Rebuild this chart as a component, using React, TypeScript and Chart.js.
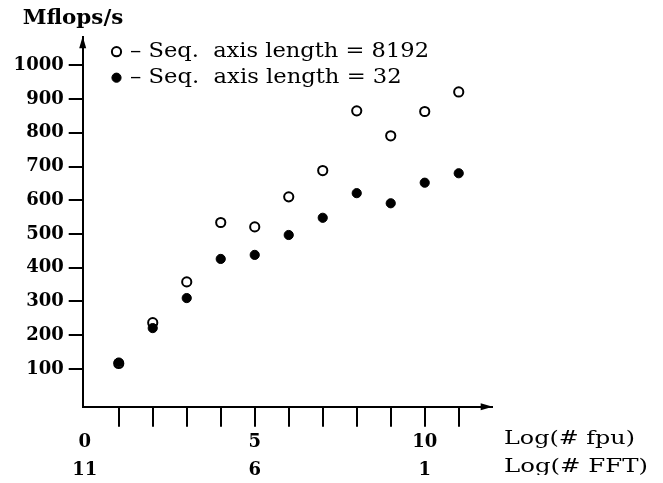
import React, { useEffect, useRef } from 'react';
import { Chart, registerables } from 'chart.js';

Chart.register(...registerables);

const xValues = [1, 2, 3, 4, 5, 6, 7, 8, 9, 10, 11];
const seq8192 = [116, 237, 358, 534, 521, 610, 688, 865, 791, 863, 921];
const seq32 = [119, 221, 310, 426, 438, 497, 548, 621, 591, 652, 680];
const yTickValues = [100, 200, 300, 400, 500, 600, 700, 800, 900, 1000];
const xTickValues = [0, 1, 2, 3, 4, 5, 6, 7, 8, 9, 10, 11];
const fpuTickLabels: Record<number, string> = { 0: '0', 5: '5', 10: '10' };
const fftTickLabels: Record<number, string> = { 0: '11', 5: '6', 10: '1' };
const legendLabels = ['– Seq.  axis length = 8192', '– Seq.  axis length = 32'];
const yAxisTitle = 'Mflops/s';
const xAxisTitles = ['Log(# fpu)', 'Log(# FFT)'];

const SERIF = '"DejaVu Serif", serif';

function drawStretched(
  ctx: CanvasRenderingContext2D,
  text: string,
  x: number,
  baseline: number,
  font: string,
  targetWidth: number
) {
  ctx.save();
  ctx.font = font;
  ctx.textAlign = 'left';
  ctx.textBaseline = 'alphabetic';
  const w = ctx.measureText(text).width;
  const sx = targetWidth / w;
  ctx.translate(x, baseline);
  ctx.scale(sx, 1);
  ctx.fillStyle = '#000';
  ctx.fillText(text, 0, 0);
  ctx.restore();
}

const decorPlugin = {
  id: 'decor',
  afterDraw(chart: any) {
    const ctx: CanvasRenderingContext2D = chart.ctx;
    const { left, right, top, bottom } = chart.chartArea;
    ctx.save();
    ctx.fillStyle = '#000';
    // y arrow
    ctx.beginPath();
    ctx.moveTo(left, top - 1);
    ctx.lineTo(left - 3.5, top + 11);
    ctx.lineTo(left + 3.5, top + 11);
    ctx.closePath();
    ctx.fill();
    // x arrow
    ctx.beginPath();
    ctx.moveTo(right + 1, bottom);
    ctx.lineTo(right - 11, bottom - 3.5);
    ctx.lineTo(right - 11, bottom + 3.5);
    ctx.closePath();
    ctx.fill();

    // legend
    const ds = chart.data.datasets;
    const rows = [
      { my: 43.7, base: 49.3, text: legendLabels[0], w: 299, d: ds[1] },
      { my: 69.7, base: 75.3, text: legendLabels[1], w: 271.7, d: ds[0] },
    ];
    rows.forEach((r) => {
      ctx.beginPath();
      ctx.arc(108.5, r.my, r.d.pointRadius, 0, Math.PI * 2);
      if (r.d.backgroundColor !== 'rgba(0,0,0,0)') {
        ctx.fillStyle = r.d.backgroundColor;
        ctx.fill();
      }
      ctx.lineWidth = r.d.borderWidth;
      ctx.strokeStyle = r.d.borderColor;
      ctx.stroke();
      drawStretched(ctx, r.text, 122, r.base, `20px ${SERIF}`, r.w);
    });

    // axis titles
    drawStretched(ctx, yAxisTitle, 14.7, 15.5, `bold 20px ${SERIF}`, 100.6);
    drawStretched(ctx, xAxisTitles[0], 496, 436, `19px ${SERIF}`, 131);
    drawStretched(ctx, xAxisTitles[1], 496, 463.7, `19px ${SERIF}`, 144);
    ctx.restore();
  },
};

export default function App() {
  const ref = useRef<HTMLCanvasElement | null>(null);
  useEffect(() => {
    if (!ref.current) return;
    const tickFont = { family: SERIF, size: 18, weight: 'bold' as const, lineHeight: 1.55 };
    const chart = new Chart(ref.current, {
      type: 'scatter',
      data: {
        datasets: [
          {
            label: 'Seq. axis length = 32',
            data: xValues.map((x, i) => ({ x, y: seq32[i] })),
            pointStyle: 'circle',
            pointRadius: 4.6,
            backgroundColor: '#000',
            borderColor: '#000',
            borderWidth: 1,
          },
          {
            label: 'Seq. axis length = 8192',
            data: xValues.map((x, i) => ({ x, y: seq8192[i] })),
            pointStyle: 'circle',
            pointRadius: 4.6,
            backgroundColor: 'rgba(0,0,0,0)',
            borderColor: '#000',
            borderWidth: 2,
          },
        ] as any,
      },
      options: {
        animation: false,
        responsive: true,
        maintainAspectRatio: false,
        layout: { padding: { top: 29.3, right: 163.3, left: 0, bottom: 0 } },
        plugins: {
          legend: { display: false },
          tooltip: { enabled: false },
        },
        scales: {
          x: {
            type: 'linear',
            min: -0.06,
            max: 11.97,
            afterBuildTicks: (s: any) => {
              s.ticks = xTickValues.map((v) => ({ value: v }));
            },
            afterFit: (s: any) => {
              s.height = 68.3;
              s.paddingLeft = 0;
              s.paddingRight = 0;
            },
            ticks: {
              autoSkip: false,
              maxRotation: 0,
              padding: 2,
              color: '#000',
              font: tickFont,
              callback: (v: any) => {
                const n = Number(v);
                return fpuTickLabels[n] !== undefined ? [fpuTickLabels[n], fftTickLabels[n]] : '';
              },
            },
            grid: {
              display: true,
              drawOnChartArea: false,
              drawTicks: true,
              tickLength: 20,
              lineWidth: 2,
              color: (c: any) => (c.tick && c.tick.value === 0 ? 'rgba(0,0,0,0)' : '#000'),
              tickColor: (c: any) => (c.tick && c.tick.value === 0 ? 'rgba(0,0,0,0)' : '#000'),
            },
            border: { display: true, color: '#000', width: 2 },
          },
          y: {
            type: 'linear',
            min: -12,
            max: 1083,
            afterBuildTicks: (s: any) => {
              s.ticks = yTickValues.map((v) => ({ value: v }));
            },
            afterFit: (s: any) => {
              s.width = 74.7;
            },
            ticks: {
              padding: 5,
              color: '#000',
              font: { family: SERIF, size: 18, weight: 'bold' as const },
              callback: (v: any) => String(v),
            },
            grid: {
              display: true,
              drawOnChartArea: false,
              drawTicks: true,
              tickLength: 14,
              lineWidth: 2,
              color: '#000',
              tickColor: '#000',
            },
            border: { display: true, color: '#000', width: 2 },
          },
        },
      } as any,
      plugins: [decorPlugin],
    });
    return () => chart.destroy();
  }, []);
  return (
    <div style={{ width: 647, height: 467, position: 'relative' }}>
      <canvas ref={ref} />
    </div>
  );
}
